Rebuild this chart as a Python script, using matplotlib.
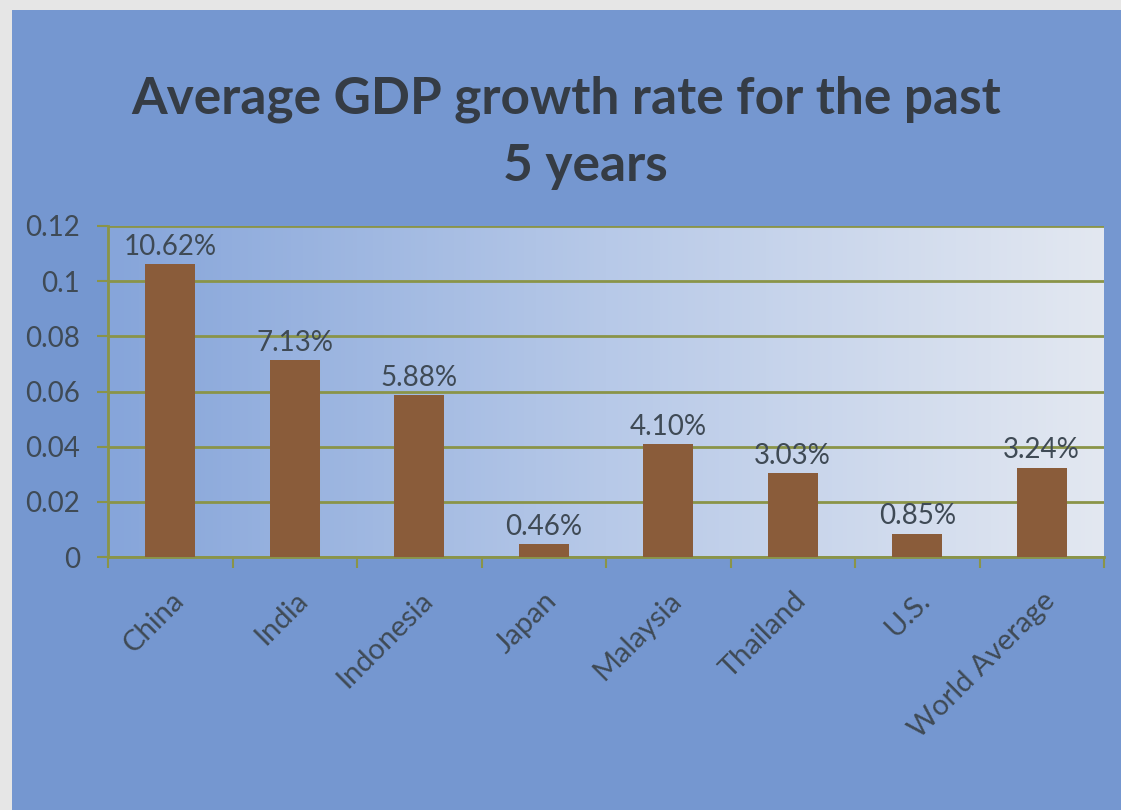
import numpy as np
import matplotlib
matplotlib.use("Agg")
import matplotlib.pyplot as plt
from matplotlib.colors import LinearSegmentedColormap

categories = ["China", "India", "Indonesia", "Japan", "Malaysia", "Thailand", "U.S.", "World Average"]
values = [0.1062, 0.0713, 0.0588, 0.0046, 0.0410, 0.0303, 0.0085, 0.0324]
labels = ["10.62%", "7.13%", "5.88%", "0.46%", "4.10%", "3.03%", "0.85%", "3.24%"]
yticks = [0, 0.02, 0.04, 0.06, 0.08, 0.1, 0.12]
yticklabels = ["0", "0.02", "0.04", "0.06", "0.08", "0.1", "0.12"]

W, H = 1121, 810
fig = plt.figure(figsize=(W / 100, H / 100), dpi=100)
fig.patch.set_facecolor("#e6e6e6")

FONT = "Lato"

# blue panel
panel = fig.add_axes([12 / W, 0, 1 - 12 / W, 1 - 10 / H])
panel.set_axis_off()
panel.add_patch(plt.Rectangle((0, 0), 1, 1, transform=panel.transAxes, color="#7597d0", zorder=0))

text_color = "#3f4a55"
grid_color = "#8a9448"

ax = fig.add_axes([108 / W, 1 - 557 / H, (1104 - 108) / W, (557 - 226) / H])
ax.set_facecolor("none")
cmap = LinearSegmentedColormap.from_list("bg", ["#86a5da", "#b7c9e8", "#e3e8f1"])
grad = np.linspace(0, 1, 256).reshape(1, -1)
ax.imshow(grad, extent=[0, 1, 0, 1], transform=ax.transAxes, cmap=cmap, aspect="auto", zorder=0)

x = np.arange(len(categories))
ax.bar(x, values, width=0.4, color="#8a5c3a", zorder=3)
ax.set_xlim(-0.5, len(categories) - 0.5)
ax.set_ylim(0, 0.12)

ax.set_yticks(yticks)
ax.set_yticklabels(yticklabels, fontsize=20, color=text_color, family=FONT)
ax.yaxis.grid(True, color=grid_color, linewidth=2, zorder=1)
ax.set_axisbelow(True)
ax.tick_params(axis="y", length=8, width=1.5, color=grid_color, direction="out", pad=12)

ax.set_xticks(np.arange(-0.5, len(categories) + 0.5, 1), minor=False)
ax.set_xticklabels([])
ax.set_xticks(x, minor=True)
ax.set_xticklabels(categories, minor=True, rotation=45, ha="right", rotation_mode="anchor",
                   fontsize=21, color=text_color, family=FONT)
ax.tick_params(axis="x", which="major", length=8, width=1.5, color=grid_color, direction="out")
ax.tick_params(axis="x", which="minor", length=0, pad=22)

for s in ["top", "right"]:
    ax.spines[s].set_visible(False)
for s in ["left", "bottom"]:
    ax.spines[s].set_color(grid_color)
    ax.spines[s].set_linewidth(2)

for xi, v, lab in zip(x, values, labels):
    ax.annotate(lab, (xi, v), xytext=(0, 3), textcoords="offset points", ha="center", va="bottom",
                fontsize=20, color=text_color, family=FONT, zorder=5)

fig.text(0.505, 1 - 99 / H, "Average GDP growth rate for the past", ha="center", va="center",
         fontsize=37, fontweight="bold", color="#353c45", family=FONT)
fig.text(0.522, 1 - 166 / H, "5 years", ha="center", va="center",
         fontsize=37, fontweight="bold", color="#353c45", family=FONT)

fig.savefig("out.png", dpi=100, facecolor=fig.get_facecolor())
